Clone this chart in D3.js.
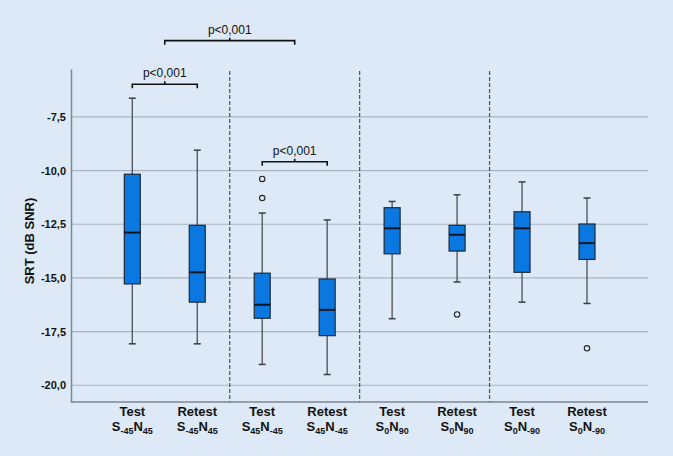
<!DOCTYPE html>
<html>
<head>
<meta charset="utf-8">
<script src="https://cdn.jsdelivr.net/npm/d3@7"></script>
<style>
	body { margin: 0; background: #dde9f6; }
	svg { display: block; }
	.grid line { stroke: #a9b4c0; stroke-width: 1.2; }
	text { font-family: "Liberation Sans", Arial, sans-serif; fill: #111; }
</style>
</head>
<body>
<div id="chartDiv"></div>
<script>
// categories (label line 1, subscript parts of line 2)
var tests = ["Test", "Retest", "Test", "Retest", "Test", "Retest", "Test", "Retest"];
var conds = [
	[["S", ""], ["-45", "sub"], ["N", ""], ["45", "sub"]],
	[["S", ""], ["-45", "sub"], ["N", ""], ["45", "sub"]],
	[["S", ""], ["45", "sub"], ["N", ""], ["-45", "sub"]],
	[["S", ""], ["45", "sub"], ["N", ""], ["-45", "sub"]],
	[["S", ""], ["0", "sub"], ["N", ""], ["90", "sub"]],
	[["S", ""], ["0", "sub"], ["N", ""], ["90", "sub"]],
	[["S", ""], ["0", "sub"], ["N", ""], ["-90", "sub"]],
	[["S", ""], ["0", "sub"], ["N", ""], ["-90", "sub"]]
];
// box stats
var whiskerHi = [-6.63, -9.05, -11.98, -12.30, -11.44, -11.13, -10.53, -11.28];
var q3        = [-10.17, -12.55, -14.78, -15.05, -11.73, -12.55, -11.92, -12.49];
var medians   = [-12.89, -14.74, -16.25, -16.49, -12.69, -12.99, -12.69, -13.38];
var q1        = [-15.28, -16.13, -16.88, -17.69, -13.88, -13.75, -14.74, -14.14];
var whiskerLo = [-18.07, -18.07, -19.03, -19.50, -16.90, -15.19, -16.13, -16.19];
var outliers  = [[], [], [-10.39, -11.28], [], [], [-16.70], [], [-18.28]];
var yTicks = [-7.5, -10, -12.5, -15, -17.5, -20];
// significance brackets: [from position, to position, level value]
var brackets = [[0, 1, -5.98], [0.5, 2.5, -3.95], [2, 3, -9.59]];

var width = 673, height = 456;
var svg = d3.select("#chartDiv").append("svg")
	.attr("width", width).attr("height", height);

var idx = d3.range(tests.length);
var x = d3.scalePoint().domain(idx).range([132.3, 587]);
var xAt = function(p) { return x(0) + p * x.step(); };
var y = d3.scaleLinear().domain([-20.78, -5.27]).range([402, 69]);
var fmt = function(v) { return d3.format(".1f")(v).replace(".", ",").replace("−", "-"); };

// gridlines
svg.append("g").attr("class", "grid")
	.selectAll("line").data(yTicks).enter().append("line")
	.attr("x1", 71).attr("x2", 648)
	.attr("y1", function(d) { return y(d); })
	.attr("y2", function(d) { return y(d); });

// y axis
var yAxis = svg.append("g").attr("transform", "translate(71,0)")
	.call(d3.axisLeft(y).tickValues(yTicks).tickSize(0).tickPadding(5).tickFormat(fmt));
yAxis.select(".domain").attr("stroke", "#7d8791").attr("stroke-width", 1.5);
yAxis.selectAll("text").style("font-size", "11px").style("font-weight", "bold")
	.style("font-family", "'Liberation Sans', Arial, sans-serif").attr("fill", "#111");

// x axis line
svg.append("line").attr("x1", 71).attr("x2", 648)
	.attr("y1", 402).attr("y2", 402)
	.attr("stroke", "#7d8791").attr("stroke-width", 1.5);

// y title
svg.append("text")
	.attr("transform", "translate(34,241) rotate(-90)")
	.attr("text-anchor", "middle")
	.style("font-size", "13px").style("font-weight", "bold")
	.text("SRT (dB SNR)");

// dashed dividers between condition pairs
[1.5, 3.5, 5.5].forEach(function(p) {
	svg.append("line").attr("x1", xAt(p)).attr("x2", xAt(p))
		.attr("y1", 71).attr("y2", 402)
		.attr("stroke", "#4a5058").attr("stroke-width", 1.2)
		.attr("stroke-dasharray", "4,2");
});

// boxes
var bw = 16, cap = 7;
var boxes = svg.selectAll(".box").data(idx).enter().append("g").attr("class", "box")
	.attr("transform", function(i) { return "translate(" + x(i) + ",0)"; });
boxes.append("line").attr("x1", 0).attr("x2", 0)
	.attr("y1", function(i) { return y(whiskerHi[i]); })
	.attr("y2", function(i) { return y(whiskerLo[i]); })
	.attr("stroke", "#4b5057").attr("stroke-width", 1.3);
boxes.append("line").attr("x1", -cap / 2).attr("x2", cap / 2)
	.attr("y1", function(i) { return y(whiskerHi[i]); })
	.attr("y2", function(i) { return y(whiskerHi[i]); })
	.attr("stroke", "#3a3f45").attr("stroke-width", 1.5);
boxes.append("line").attr("x1", -cap / 2).attr("x2", cap / 2)
	.attr("y1", function(i) { return y(whiskerLo[i]); })
	.attr("y2", function(i) { return y(whiskerLo[i]); })
	.attr("stroke", "#3a3f45").attr("stroke-width", 1.5);
boxes.append("rect").attr("x", -bw / 2).attr("width", bw)
	.attr("y", function(i) { return y(q3[i]); })
	.attr("height", function(i) { return y(q1[i]) - y(q3[i]); })
	.attr("fill", "#0a78e0").attr("stroke", "#1c2a38").attr("stroke-width", 1.2);
boxes.append("line").attr("x1", -bw / 2).attr("x2", bw / 2)
	.attr("y1", function(i) { return y(medians[i]); })
	.attr("y2", function(i) { return y(medians[i]); })
	.attr("stroke", "#0d1620").attr("stroke-width", 2);
boxes.each(function(i) {
	d3.select(this).selectAll("circle").data(outliers[i]).enter().append("circle")
		.attr("cx", 0).attr("cy", function(v) { return y(v); }).attr("r", 2.7)
		.attr("fill", "none").attr("stroke", "#222").attr("stroke-width", 1.1);
});

// x labels
var xl = svg.selectAll(".xlab").data(idx).enter().append("g").attr("class", "xlab")
	.attr("transform", function(i) { return "translate(" + x(i) + ",0)"; });
xl.append("text").attr("y", 416).attr("text-anchor", "middle")
	.style("font-size", "13px").style("font-weight", "bold")
	.text(function(i) { return tests[i]; });
xl.append("text").attr("y", 431).attr("text-anchor", "middle")
	.style("font-size", "13px").style("font-weight", "bold")
	.each(function(i) {
		var t = d3.select(this);
		conds[i].forEach(function(p, k) {
			var ts = t.append("tspan").text(p[0]);
			if (p[1] === "sub") ts.style("font-size", "9px").attr("dy", 3);
			else if (k > 0) ts.attr("dy", -3);
		});
	});

// significance brackets
brackets.forEach(function(b) {
	var x0 = xAt(b[0]), x1 = xAt(b[1]);
	var yy = y(b[2]);
	var xm = (x0 + x1) / 2;
	svg.append("path")
		.attr("d", "M" + x0 + "," + (yy + 4) + "V" + yy + "H" + x1 + "V" + (yy + 4)
			+ "M" + xm + "," + yy + "V" + (yy - 3))
		.attr("fill", "none").attr("stroke", "#111").attr("stroke-width", 1.6);
	svg.append("text").attr("x", xm).attr("y", yy - 7)
		.attr("text-anchor", "middle").style("font-size", "12px")
		.text("p<0,001");
});
</script>
</body>
</html>
